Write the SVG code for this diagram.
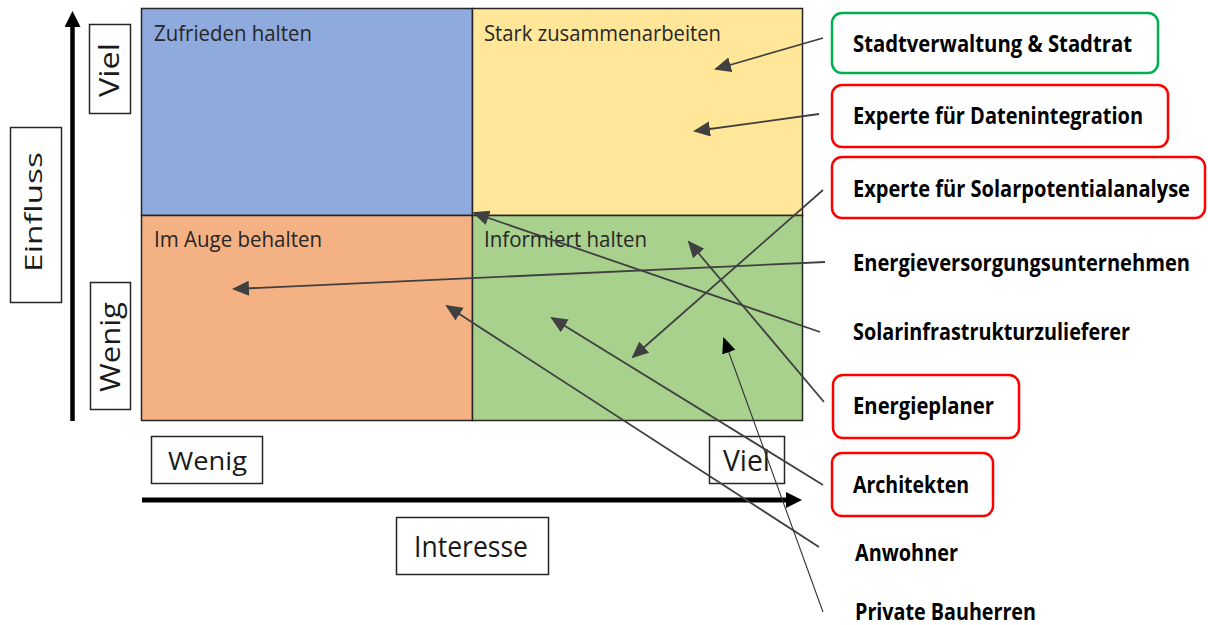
<svg xmlns="http://www.w3.org/2000/svg" width="1208" height="625" viewBox="0 0 1208 625">
  <style>
    .quad { stroke: #262626; stroke-width: 1.5; }
    .qlabel { font-family: "Open Sans", "Liberation Sans", sans-serif; font-size: 21px; fill: #262626; }
    .axisbox { fill: #ffffff; stroke: #262626; stroke-width: 1.5; }
    .axis { font-family: "Open Sans", "Liberation Sans", sans-serif; fill: #1a1a1a; }
    .stake { font-family: "Open Sans", "Liberation Sans", sans-serif; font-size: 23px; font-weight: bold; fill: #000000; }
    .green { fill: #ffffff; stroke: #00B050; stroke-width: 2.5; }
    .red { fill: #ffffff; stroke: #FF0000; stroke-width: 2.5; }
    .conn { stroke: #404040; stroke-width: 1.8; fill: none; marker-end: url(#head); }
    .conn-thin { stroke: #333333; stroke-width: 1.1; fill: none; marker-end: url(#head-black); }
  </style>
  <defs>
    <marker id="head" markerUnits="userSpaceOnUse" markerWidth="18" markerHeight="16" refX="15" refY="7.5" orient="auto">
      <path d="M0,0 L17,7.5 L0,15 Z" fill="#404040"/>
    </marker>
    <marker id="head-black" markerUnits="userSpaceOnUse" markerWidth="18" markerHeight="16" refX="14" refY="7" orient="auto">
      <path d="M0,0 L16,7 L0,14 Z" fill="#000000"/>
    </marker>
    <marker id="axis-head" markerUnits="userSpaceOnUse" markerWidth="18" markerHeight="18" refX="2" refY="8" orient="auto">
      <path d="M0,0 L16,8 L0,16 Z" fill="#000000"/>
    </marker>
  </defs>

  <!-- quadrant matrix -->
  <g id="matrix">
    <rect class="quad" x="141.5" y="8.5" width="331" height="207" fill="#8FAADC"/>
    <rect class="quad" x="472.5" y="8.5" width="330" height="207" fill="#FFE699"/>
    <rect class="quad" x="141.5" y="215.5" width="331" height="205" fill="#F4B183"/>
    <rect class="quad" x="472.5" y="215.5" width="330" height="205" fill="#A9D18E"/>
    <text class="qlabel" x="154" y="41" textLength="158" lengthAdjust="spacingAndGlyphs">Zufrieden halten</text>
    <text class="qlabel" x="484" y="41" textLength="237" lengthAdjust="spacingAndGlyphs">Stark zusammenarbeiten</text>
    <text class="qlabel" x="154" y="247" textLength="168" lengthAdjust="spacingAndGlyphs">Im Auge behalten</text>
    <text class="qlabel" x="484" y="247" textLength="163" lengthAdjust="spacingAndGlyphs">Informiert halten</text>
  </g>

  <!-- axes -->
  <g id="axes">
    <line x1="72.5" y1="421" x2="72.5" y2="25" stroke="#000000" stroke-width="4.5" marker-end="url(#axis-head)"/>
    <line x1="142" y1="500" x2="788" y2="500" stroke="#000000" stroke-width="5" marker-end="url(#axis-head)"/>
  </g>

  <g id="axis-einfluss">
    <rect class="axisbox" x="10.5" y="127.5" width="51" height="175"/>
    <text class="axis" font-size="24" transform="translate(42,272) rotate(-90)" textLength="120" lengthAdjust="spacingAndGlyphs">Einfluss</text>
  </g>
  <g id="axis-viel-v">
    <rect class="axisbox" x="89.5" y="24.5" width="41" height="89"/>
    <text class="axis" font-size="27" transform="translate(119,97) rotate(-90)" textLength="54" lengthAdjust="spacingAndGlyphs">Viel</text>
  </g>
  <g id="axis-wenig-v">
    <rect class="axisbox" x="90.5" y="282.5" width="40" height="127"/>
    <text class="axis" font-size="28" transform="translate(120,392) rotate(-90)" textLength="90" lengthAdjust="spacingAndGlyphs">Wenig</text>
  </g>
  <g id="axis-wenig-h">
    <rect class="axisbox" x="151.5" y="436.5" width="111" height="47"/>
    <text class="axis" font-size="26" x="168" y="470" textLength="79" lengthAdjust="spacingAndGlyphs">Wenig</text>
  </g>
  <g id="axis-viel-h">
    <rect class="axisbox" x="709.5" y="436.5" width="75" height="47"/>
    <text class="axis" font-size="29" x="723" y="471" textLength="47" lengthAdjust="spacingAndGlyphs">Viel</text>
  </g>
  <g id="axis-interesse">
    <rect class="axisbox" x="396.5" y="517.5" width="152" height="57"/>
    <text class="axis" font-size="29" x="414" y="557" textLength="114" lengthAdjust="spacingAndGlyphs">Interesse</text>
  </g>

  <!-- stakeholders: labels are set in a horizontally condensed bold face -->
  <g id="stadtverwaltung">
    <rect class="green" x="832" y="13" width="326" height="60" rx="10"/>
    <text class="stake" transform="translate(853,52) scale(0.75,1)" textLength="372" lengthAdjust="spacingAndGlyphs">Stadtverwaltung &amp; Stadtrat</text>
  </g>
  <g id="datenintegration">
    <rect class="red" x="832" y="85" width="336" height="62" rx="10"/>
    <text class="stake" transform="translate(853,124) scale(0.75,1)" textLength="386.7" lengthAdjust="spacingAndGlyphs">Experte für Datenintegration</text>
  </g>
  <g id="solarpotential">
    <rect class="red" x="832" y="157" width="373" height="61" rx="10"/>
    <text class="stake" transform="translate(853,197) scale(0.75,1)" textLength="449.3" lengthAdjust="spacingAndGlyphs">Experte für Solarpotentialanalyse</text>
  </g>
  <g id="energieversorgung">
    <text class="stake" transform="translate(853,271) scale(0.75,1)" textLength="449.3" lengthAdjust="spacingAndGlyphs">Energieversorgungsunternehmen</text>
  </g>
  <g id="solarinfrastruktur">
    <text class="stake" transform="translate(853,340) scale(0.75,1)" textLength="369.3" lengthAdjust="spacingAndGlyphs">Solarinfrastrukturzulieferer</text>
  </g>
  <g id="energieplaner">
    <rect class="red" x="833" y="375" width="186" height="63" rx="10"/>
    <text class="stake" transform="translate(853,414) scale(0.75,1)" textLength="188" lengthAdjust="spacingAndGlyphs">Energieplaner</text>
  </g>
  <g id="architekten">
    <rect class="red" x="832" y="453" width="161" height="63" rx="10"/>
    <text class="stake" transform="translate(853,493) scale(0.75,1)" textLength="154.7" lengthAdjust="spacingAndGlyphs">Architekten</text>
  </g>
  <g id="anwohner">
    <text class="stake" transform="translate(855,561) scale(0.75,1)" textLength="137.3" lengthAdjust="spacingAndGlyphs">Anwohner</text>
  </g>
  <g id="bauherren">
    <text class="stake" transform="translate(855,620) scale(0.75,1)" textLength="241.3" lengthAdjust="spacingAndGlyphs">Private Bauherren</text>
  </g>

  <!-- connectors -->
  <g id="connectors">
    <line class="conn" x1="823" y1="38" x2="716" y2="69"/>
    <line class="conn" x1="819" y1="114" x2="695" y2="131"/>
    <line class="conn" x1="823" y1="190" x2="633" y2="357"/>
    <line class="conn" x1="825" y1="262" x2="234" y2="289"/>
    <line class="conn" x1="820" y1="332" x2="474" y2="213"/>
    <line class="conn" x1="824" y1="402" x2="689" y2="242"/>
    <line class="conn" x1="823" y1="485" x2="552" y2="318"/>
    <line class="conn" x1="819" y1="547" x2="447" y2="306"/>
    <line class="conn-thin" x1="823" y1="612" x2="724" y2="339"/>
  </g>
</svg>
